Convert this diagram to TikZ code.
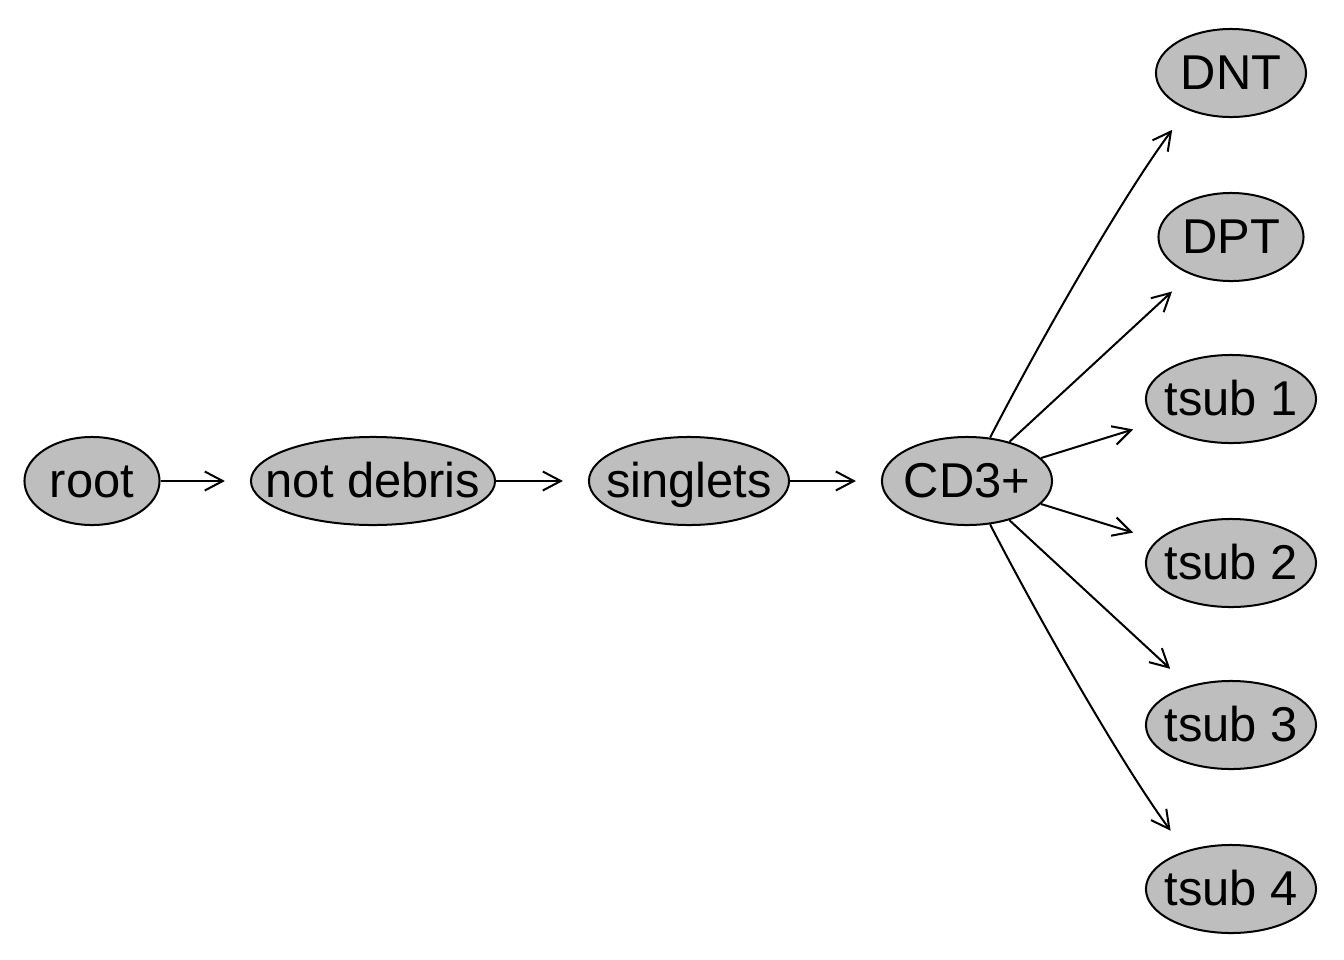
\documentclass[tikz,border=0pt]{standalone}
\usepackage{fontspec}
\setmainfont{Liberation Sans}
\usetikzlibrary{shapes.geometric,arrows.meta}
% label centred on the node, independent of the ellipse size
\newcommand{\gatelbl}[1]{\makebox[0pt]{\smash{\raisebox{-0.16cm}{#1}}}}
\begin{document}
\begin{tikzpicture}[x=0.01cm,y=-0.01cm,
  gate/.style={ellipse,draw=black,line width=0.57pt,fill=gray75,inner sep=0pt,
    minimum height=0.88cm,font=\fontsize{13.9pt}{17pt}\selectfont},
  link/.style={line width=0.57pt,
    -{Straight Barb[length=0.18cm,width=0.19cm,line width=0.57pt]},
    shorten >=0.25cm}]
\definecolor{gray75}{RGB}{190,190,190}
\useasboundingbox (0,0) rectangle (1344,960);

% main chain
\node[gate,minimum width=1.35cm] (root)    at (92,481)  {\gatelbl{root}};
\node[gate,minimum width=2.44cm] (debris)  at (373,481) {\gatelbl{not debris}};
\node[gate,minimum width=2.00cm] (singl)   at (689,481) {\gatelbl{singlets}};
\node[gate,minimum width=1.70cm] (cd)      at (967,481) {\gatelbl{CD3+}};

% T-cell subsets
\node[gate,minimum width=1.50cm] (dnt)  at (1231,73)  {\gatelbl{DNT}};
\node[gate,minimum width=1.45cm] (dpt)  at (1231,237) {\gatelbl{DPT}};
\node[gate,minimum width=1.70cm] (ts1)  at (1231,399) {\gatelbl{tsub 1}};
\node[gate,minimum width=1.70cm] (ts2)  at (1231,563) {\gatelbl{tsub 2}};
\node[gate,minimum width=1.70cm] (ts3)  at (1231,725) {\gatelbl{tsub 3}};
\node[gate,minimum width=1.70cm] (ts4)  at (1231,889) {\gatelbl{tsub 4}};

% edges
\draw[link] (root) -- (debris);
\draw[link] (debris) -- (singl);
\draw[link] (singl) -- (cd);
\draw[link] (cd.62) .. controls (1050,322) and (1128,189) .. (dnt.220);
\draw[link] (cd) -- (dpt);
\draw[link] (cd) -- (ts1);
\draw[link] (cd) -- (ts2);
\draw[link] (cd) -- (ts3);
\draw[link] (cd.-62) .. controls (1050,640) and (1128,773) .. (ts4.140);
\end{tikzpicture}
\end{document}
